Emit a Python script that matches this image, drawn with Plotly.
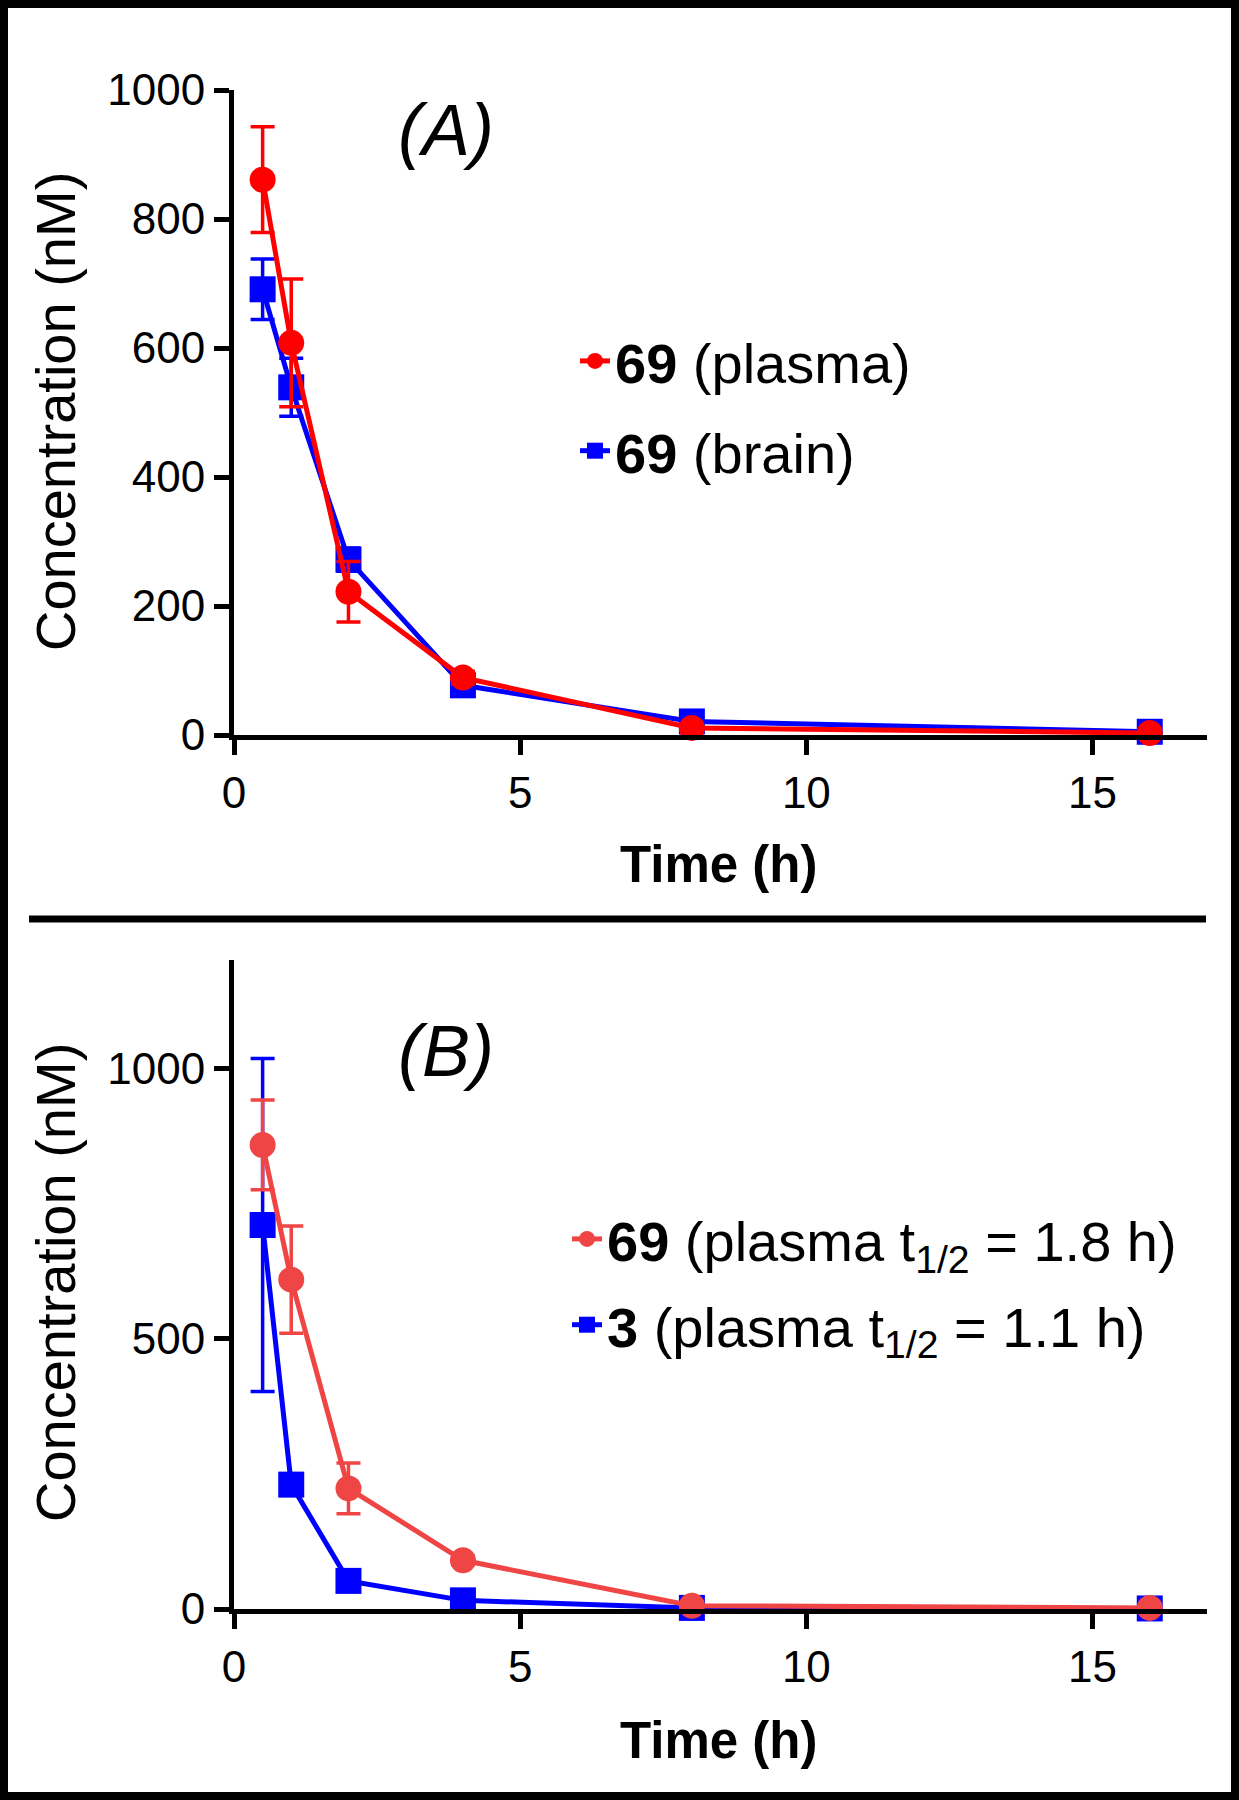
import plotly.graph_objects as go

# ---- data ----
time_h = [0.5, 1, 2, 4, 8, 16]

# Panel A: compound 69 plasma / brain
a_plasma = [861, 608, 222, 89, 11, 3]
a_plasma_err = [82, 99, 47, 10, 3, 1]
a_brain = [691, 539, 272, 77, 21, 5]
a_brain_err = [47, 45, 18, 8, 3, 1]

# Panel B: plasma 69 vs 3
b_69 = [858, 609, 223, 90, 6, 2]
b_69_err = [83, 99, 47, 8, 3, 1]
b_3 = [710, 230, 52, 16, 2, 1]
b_3_err = [308, 15, 8, 4, 1, 1]

x_ticks = [0, 5, 10, 15]
a_y_ticks = [0, 200, 400, 600, 800, 1000]
b_y_ticks = [0, 500, 1000]

legend_a = ["<b>69</b> (plasma)", "<b>69</b> (brain)"]
legend_b = ["<b>69</b> (plasma t<sub>1/2</sub> = 1.8 h)", "<b>3</b> (plasma t<sub>1/2</sub> = 1.1 h)"]

RED = "#ff0000"
RED_B = "#f04545"
BLUE = "#0000ff"
FONT = "Liberation Sans, Arial, Helvetica, sans-serif"

W, H = 1239, 1800

fig = go.Figure()

def add(x, y, err, color, symbol, name, xa, ya, legend, rank, group):
    fig.add_trace(go.Scatter(
        x=x, y=y, mode="lines+markers", name=name,
        xaxis=xa, yaxis=ya, legend=legend, legendrank=rank, legendgroup=group,
        line=dict(color=color, width=5),
        marker=dict(color=color, size=26, symbol=symbol),
        error_y=dict(type="data", array=err, visible=True, color=color,
                     thickness=3.5, width=12),
        cliponaxis=False,
    ))

# panel A (brain first so plasma draws on top)
add(time_h, a_brain, a_brain_err, BLUE, "square", legend_a[1], "x", "y", "legend", 2, "a2")
add(time_h, a_plasma, a_plasma_err, RED, "circle", legend_a[0], "x", "y", "legend", 1, "a1")
# panel B
add(time_h, b_3, b_3_err, BLUE, "square", legend_b[1], "x2", "y2", "legend2", 2, "b2")
add(time_h, b_69, b_69_err, RED_B, "circle", legend_b[0], "x2", "y2", "legend2", 1, "b1")

xd = [234 / W, 1207 / W]
axis_common = dict(
    showline=True, linecolor="black", linewidth=5,
    ticks="outside", ticklen=15, tickwidth=5, tickcolor="black",
    showgrid=False, zeroline=False, automargin=False,
    tickfont=dict(family=FONT, size=44, color="black"),
)

fig.update_layout(
    template="none",
    width=W, height=H,
    margin=dict(l=0, r=0, t=0, b=0, pad=0, autoexpand=False),
    paper_bgcolor="white", plot_bgcolor="white",
    font=dict(family=FONT, color="black"),
    xaxis=dict(domain=xd, range=[0, 17.0], anchor="y", tickvals=x_ticks, **axis_common),
    yaxis=dict(domain=[1 - 735 / H, 1 - 90 / H], range=[0, 1000], anchor="x",
               tickvals=a_y_ticks, **axis_common),
    xaxis2=dict(domain=xd, range=[0, 17.0], anchor="y2", tickvals=x_ticks, **axis_common),
    yaxis2=dict(domain=[1 - 1609 / H, 1 - 960 / H], range=[0, 1200], anchor="x2",
                tickvals=b_y_ticks, **axis_common),
    legend=dict(x=575 / W, y=1 - 318 / H, xanchor="left", yanchor="top",
                font=dict(family=FONT, size=56, color="black"),
                bgcolor="rgba(0,0,0,0)", tracegroupgap=14, itemsizing="trace"),
    legend2=dict(x=567 / W, y=1 - 1196 / H, xanchor="left", yanchor="top",
                 font=dict(family=FONT, size=56, color="black"),
                 bgcolor="rgba(0,0,0,0)", tracegroupgap=10, itemsizing="trace"),
    showlegend=True,
)

annotations = [
    dict(text="<i>(A)</i>", x=446 / W, y=1 - 130 / H, font=dict(size=72)),
    dict(text="<i>(B)</i>", x=446 / W, y=1 - 1051 / H, font=dict(size=72)),
    dict(text="Concentration (nM)", x=55 / W, y=1 - 412 / H, textangle=-90, font=dict(size=56)),
    dict(text="Concentration (nM)", x=55 / W, y=1 - 1283 / H, textangle=-90, font=dict(size=56)),
    dict(text="<b>Time (h)</b>", x=719 / W, y=1 - 864 / H, font=dict(size=51)),
    dict(text="<b>Time (h)</b>", x=719 / W, y=1 - 1740 / H, font=dict(size=51)),
]
for a in annotations:
    a.update(xref="paper", yref="paper", showarrow=False, xanchor="center", yanchor="middle")
    a["font"].update(family=FONT, color="black")
fig.update_layout(annotations=annotations)

fig.add_shape(type="rect", xref="paper", yref="paper", x0=0, x1=1, y0=0, y1=1,
              line=dict(color="black", width=16), fillcolor="rgba(0,0,0,0)")
fig.add_shape(type="line", xref="paper", yref="paper", x0=29 / W, x1=1206 / W,
              y0=1 - 919 / H, y1=1 - 919 / H, line=dict(color="black", width=7))

fig.write_html(
    "out.html",
    config={"displayModeBar": False},
    post_script="document.body.style.margin='0px';document.body.style.overflow='hidden';",
)
